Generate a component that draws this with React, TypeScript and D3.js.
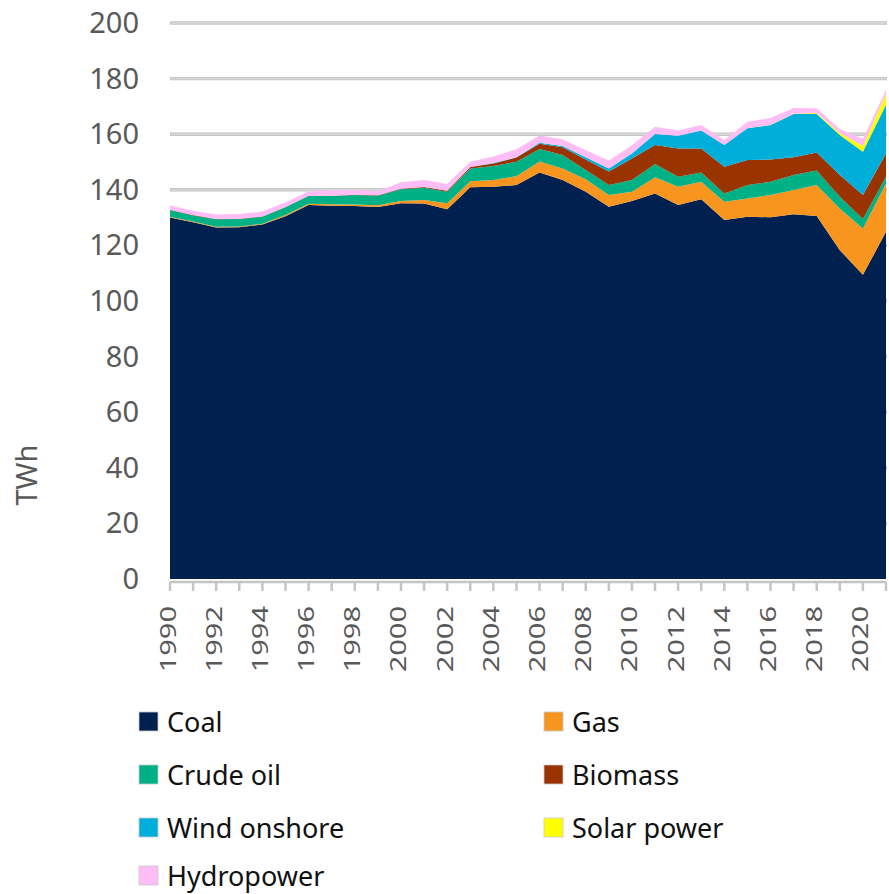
import * as d3 from 'd3';
import React, { useRef, useEffect } from 'react';

// electricity generation by source, TWh
const years = d3.range(1990, 2022);
const coal = [130, 128.3, 126.4, 126.5, 127.5, 130.5, 134.5, 134.3, 134.2, 133.8, 135.2, 135.1, 133, 140.9, 141.1, 141.7, 146.2, 143.5, 139.3, 133.9, 136, 138.7, 134.5, 136.6, 129.1, 130.3, 130.1, 131.2, 130.6, 118.3, 109.4, 124.9];
const gas = [0.3, 0.3, 0.3, 0.3, 0.3, 0.4, 0.5, 0.5, 0.5, 0.6, 0.8, 1.2, 2.2, 2.2, 2.4, 3.2, 4, 4.2, 4.5, 4.2, 3.3, 5.8, 6.6, 6.3, 6.6, 6.6, 8, 8.7, 11.1, 15, 16.7, 17.4];
const crudeOil = [2.4, 2.2, 2.7, 2.7, 2.5, 2.8, 2.8, 3, 3.4, 3.5, 4.2, 4.4, 4.1, 4.6, 5.1, 5.2, 4.5, 4.8, 3.3, 3.6, 4.2, 4.8, 3.6, 3.3, 3, 4.8, 4.8, 5.4, 5.2, 4.2, 3.4, 2.4];
const biomass = [0.1, 0.1, 0.1, 0.1, 0.1, 0.1, 0.1, 0.1, 0.1, 0.1, 0.2, 0.3, 0.4, 0.5, 0.9, 1.5, 1.9, 2.8, 3.8, 4.9, 7.8, 6.8, 10.2, 8.7, 9.6, 9, 8, 6.4, 6.5, 7.8, 8.6, 8.4];
const windOnshore = [0, 0, 0, 0, 0, 0, 0, 0, 0, 0, 0, 0, 0, 0, 0.1, 0.1, 0.3, 0.5, 0.8, 1.1, 1.8, 4, 4.5, 6.4, 7.8, 11.4, 12.4, 15.6, 13.9, 14.4, 15.6, 17.5];
const solarPower = [0, 0, 0, 0, 0, 0, 0, 0, 0, 0, 0, 0, 0, 0, 0, 0, 0, 0, 0, 0, 0, 0, 0, 0, 0, 0, 0.1, 0.1, 0.3, 0.7, 2.1, 3.8];
const hydropower = [1.6, 1.6, 1.6, 1.7, 1.8, 1.7, 1.5, 1.9, 1.7, 1.5, 2.3, 2.5, 2.4, 1.9, 2.4, 2.9, 2.6, 2.4, 2.5, 2.8, 2.9, 2.6, 1.9, 2, 1.8, 2.4, 2.4, 2, 1.7, 1.5, 2.5, 1.5];

const seriesNames = ['Coal', 'Gas', 'Crude oil', 'Biomass', 'Wind onshore', 'Solar power', 'Hydropower'];
const seriesValues = [coal, gas, crudeOil, biomass, windOnshore, solarPower, hydropower];
const seriesColors = ['#00214f', '#f7951f', '#00b185', '#993300', '#00afd9', '#ffff00', '#ffbdf6'];

const yTicks = [0, 20, 40, 60, 80, 100, 120, 140, 160, 180, 200];
const xTickLabels = d3.range(1990, 2021, 2);

// legend rows: [series index, x, y]
const legendItems = [
    [0, 139, 712], [2, 139, 765], [4, 139, 818], [6, 139, 866],
    [1, 544, 712], [3, 544, 765], [5, 544, 818],
];

function App() {
    const ref = useRef();
    const width = 889;
    const height = 894;

    useEffect(() => {
        draw();
    }, []);

    const draw = () => {
        const svg = d3.select(ref.current);
        svg.selectAll("*").remove();

        const x = d3.scaleLinear().domain([1990, 2021]).range([170, 886]);
        const y = d3.scaleLinear().domain([0, 200]).range([579, 23]);

        const table = years.map((yr, i) => {
            const row = { year: yr };
            seriesNames.forEach((n, k) => { row[n] = seriesValues[k][i]; });
            return row;
        });
        const stacked = d3.stack().keys(seriesNames)(table);

        // gridlines
        svg.selectAll(".grid")
            .data(yTicks.filter(d => d > 0))
            .enter().append("line")
            .attr("x1", 170).attr("x2", 887)
            .attr("y1", d => y(d)).attr("y2", d => y(d))
            .attr("stroke", "#c4c4c4")
            .attr("stroke-width", 3.4);
        svg.selectAll(".grid2")
            .data(yTicks.filter(d => d > 0))
            .enter().append("line")
            .attr("x1", 171).attr("x2", 886)
            .attr("y1", d => y(d)).attr("y2", d => y(d))
            .attr("stroke", "#dadada")
            .attr("stroke-width", 1.4);

        const area = d3.area()
            .x(d => x(d.data.year))
            .y0(d => y(d[0]))
            .y1(d => y(d[1]));

        svg.selectAll(".layer")
            .data(stacked)
            .enter().append("path")
            .attr("d", area)
            .attr("fill", (d, i) => seriesColors[i]);

        // x axis
        svg.append("line")
            .attr("x1", 170).attr("x2", 886)
            .attr("y1", 582).attr("y2", 582)
            .attr("stroke", "#c4c4c4").attr("stroke-width", 2.5);
        svg.selectAll(".xtick")
            .data(years)
            .enter().append("line")
            .attr("x1", d => x(d)).attr("x2", d => x(d))
            .attr("y1", 582).attr("y2", 591)
            .attr("stroke", "#c4c4c4").attr("stroke-width", 2.5);

        svg.selectAll(".xlabel")
            .data(xTickLabels)
            .enter().append("text")
            .attr("transform", d => `translate(${x(d) + 5.5},606) rotate(-90) scale(1,0.72)`)
            .attr("text-anchor", "end")
            .attr("font-family", "Noto Sans, sans-serif")
            .attr("font-size", 29)
            .attr("fill", "#595959")
            .text(d => d);

        // y labels
        svg.selectAll(".ylabel")
            .data(yTicks)
            .enter().append("text")
            .attr("x", 139)
            .attr("y", d => y(d) + 10)
            .attr("text-anchor", "end")
            .attr("font-family", "Noto Sans, sans-serif")
            .attr("font-size", 29)
            .attr("fill", "#595959")
            .text(d => d);

        svg.append("text")
            .attr("transform", "translate(37,475) rotate(-90)")
            .attr("text-anchor", "middle")
            .attr("font-family", "Noto Sans, sans-serif")
            .attr("font-size", 29)
            .attr("fill", "#595959")
            .text("TWh");

        // legend
        const leg = svg.selectAll(".leg")
            .data(legendItems)
            .enter().append("g")
            .attr("transform", d => `translate(${d[1]},${d[2]})`);
        leg.append("rect")
            .attr("width", 19).attr("height", 19)
            .attr("fill", d => seriesColors[d[0]])
            .attr("stroke", "#c8c8c8").attr("stroke-width", 0.8);
        leg.append("text")
            .attr("x", 28).attr("y", 20)
            .attr("font-family", "Noto Sans, sans-serif")
            .attr("font-size", 27)
            .attr("fill", "#111")
            .text(d => seriesNames[d[0]]);
    }

    return (
        <div className="chart">
            <svg ref={ref} width={width} height={height}
                style={{ position: 'absolute', left: 0, top: 0, background: '#fff' }}>
            </svg>
        </div>
    )
}

export default App;
